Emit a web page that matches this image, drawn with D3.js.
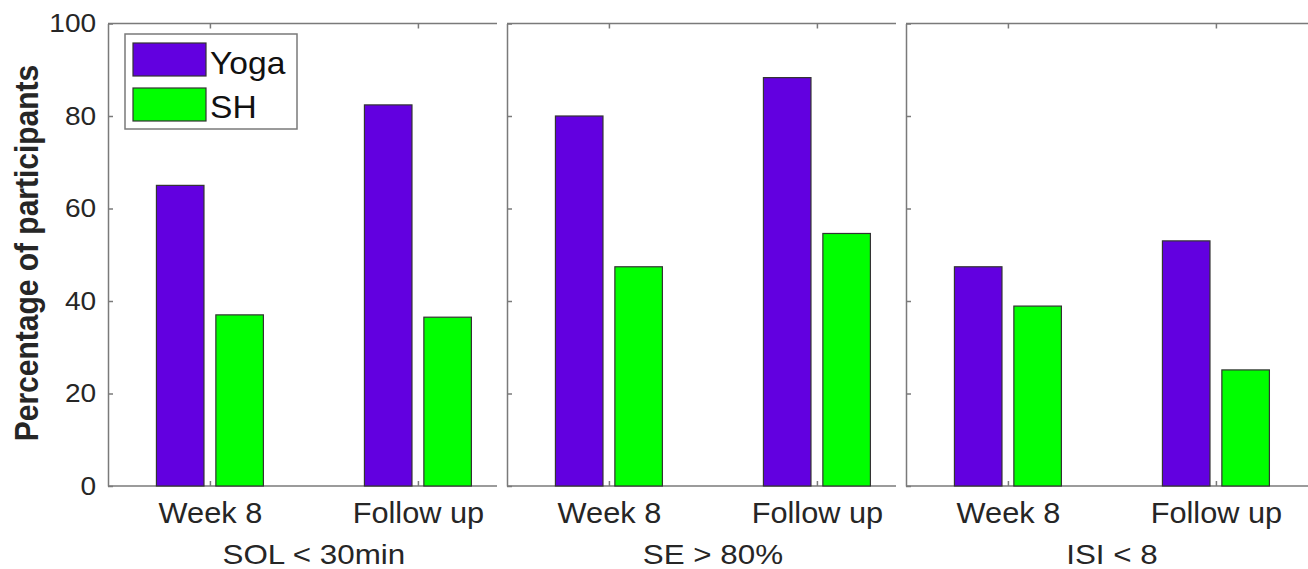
<!DOCTYPE html>
<html>
<head>
<meta charset="utf-8">
<script src="https://cdn.jsdelivr.net/npm/d3@7"></script>
<style>
  body { margin: 0; background: #fff; }
  svg { display: block; font-family: "Liberation Sans", Arial, sans-serif; }
</style>
</head>
<body>
<div id="chart"></div>
<script>
// values (percentage of participants)
const panelTitles = ["SOL < 30min", "SE > 80%", "ISI < 8"];
const timepoints = ["Week 8", "Follow up"];
const seriesNames = ["Yoga", "SH"];
const seriesColors = ["#6200e0", "#00ff00"];
const yogaValues = [[65, 82.4], [80, 88.3], [47.4, 53]];
const shValues = [[37, 36.5], [47.4, 54.6], [38.9, 25.1]];
const yTicks = [0, 20, 40, 60, 80, 100];

const width = 1308, height = 569;
const plotTop = 23.5, plotBottom = 486;
const panelLeft = [108, 507, 906];
const unitW = 208;           // px per category unit
const visibleW = 389;        // each box line stops before the next panel
const axisColor = "#7a7a7a", textColor = "#262626";

const svg = d3.select("#chart").append("svg")
  .attr("width", width)
  .attr("height", height);

const y = d3.scaleLinear().domain([0, 100]).range([plotBottom, plotTop]);

// matlab grouped bar geometry: 2 series
const groupW = Math.min(0.8, 2 / (2 + 1.5));
const offsets = [-groupW / 4, groupW / 4];
const barW = 0.8 * groupW / 2;

panelTitles.forEach(function(title, p) {
  const x = d3.scaleLinear()
    .domain([0.51, 2.5])
    .range([panelLeft[p], panelLeft[p] + 1.99 * unitW]);

  const g = svg.append("g");
  const lineEnd = p == panelTitles.length - 1 ? width + 5 : panelLeft[p] + visibleW;

  // box lines (top and bottom, no right side visible)
  g.append("line").attr("x1", panelLeft[p]).attr("x2", lineEnd)
    .attr("y1", plotTop).attr("y2", plotTop)
    .attr("stroke", axisColor).attr("stroke-width", 1.5);
  g.append("line").attr("x1", panelLeft[p]).attr("x2", lineEnd)
    .attr("y1", plotBottom).attr("y2", plotBottom)
    .attr("stroke", axisColor).attr("stroke-width", 1.5);

  const data = [];
  timepoints.forEach(function(t, i) {
    data.push({ s: 0, cat: i + 1, v: yogaValues[p][i] });
    data.push({ s: 1, cat: i + 1, v: shValues[p][i] });
  });

  g.selectAll("rect.bar")
    .data(data)
    .enter().append("rect")
    .attr("class", "bar")
    .attr("x", function(d) { return x(d.cat + offsets[d.s] - barW / 2); })
    .attr("width", function(d) { return x(d.cat + barW / 2) - x(d.cat - barW / 2); })
    .attr("y", function(d) { return y(d.v); })
    .attr("height", function(d) { return y(0) - y(d.v); })
    .attr("fill", function(d) { return seriesColors[d.s]; })
    .attr("stroke", "#333")
    .attr("stroke-width", 1.2);

  // y axis with inward ticks
  const yAxis = d3.axisLeft(y).tickValues(yTicks).tickSize(-5).tickSizeOuter(0).tickPadding(11);
  if (p > 0) yAxis.tickFormat("");
  const ya = g.append("g").attr("transform", "translate(" + panelLeft[p] + ",0)").call(yAxis);
  ya.select(".domain").attr("stroke", axisColor).attr("stroke-width", 1.5);
  ya.selectAll(".tick line").attr("stroke", axisColor).attr("stroke-width", 1.5);
  ya.selectAll(".tick text")
    .attr("fill", textColor)
    .style("font-size", "26px")
    .attr("transform", "scale(1.08,1)");

  // bottom category axis
  const xAxis = d3.axisBottom(x).tickValues([1, 2])
    .tickFormat(function(d) { return timepoints[d - 1]; })
    .tickSize(-5).tickSizeOuter(0).tickPadding(16);
  const xa = g.append("g").attr("transform", "translate(0," + plotBottom + ")").call(xAxis);
  xa.select(".domain").remove();
  xa.selectAll(".tick line").attr("stroke", axisColor).attr("stroke-width", 1.5);
  xa.selectAll(".tick text")
    .attr("fill", textColor)
    .style("font-size", "29px")
    .attr("transform", "scale(1.06,1)");

  // top ticks
  const ta = g.append("g").attr("transform", "translate(0," + plotTop + ")")
    .call(d3.axisTop(x).tickValues([1, 2]).tickFormat("").tickSize(-5).tickSizeOuter(0));
  ta.select(".domain").remove();
  ta.selectAll(".tick line").attr("stroke", axisColor).attr("stroke-width", 1.5);

  // panel title under the axis
  g.append("text")
    .attr("transform", "translate(" + x(1.5) + ",564) scale(1.12,1)")
    .attr("text-anchor", "middle")
    .attr("fill", textColor)
    .style("font-size", "28px")
    .text(title);
});

// y axis label
svg.append("text")
  .attr("transform", "translate(38,253) scale(1.1,1) rotate(-90)")
  .attr("text-anchor", "middle")
  .attr("fill", textColor)
  .style("font-size", "30px")
  .style("font-weight", "bold")
  .text("Percentage of participants");

// legend
const leg = svg.append("g");
leg.append("rect")
  .attr("x", 125).attr("y", 34).attr("width", 172).attr("height", 95)
  .attr("fill", "#fff").attr("stroke", axisColor).attr("stroke-width", 1.5);

seriesNames.forEach(function(name, i) {
  leg.append("rect")
    .attr("x", 133).attr("y", 43 + i * 45)
    .attr("width", 73).attr("height", 33)
    .attr("fill", seriesColors[i])
    .attr("stroke", "#333").attr("stroke-width", 1.2);
  leg.append("text")
    .attr("transform", "translate(210," + (74 + i * 44) + ") scale(1.05,1)")
    .attr("fill", "#111")
    .style("font-size", "32px")
    .text(name);
});
</script>
</body>
</html>
